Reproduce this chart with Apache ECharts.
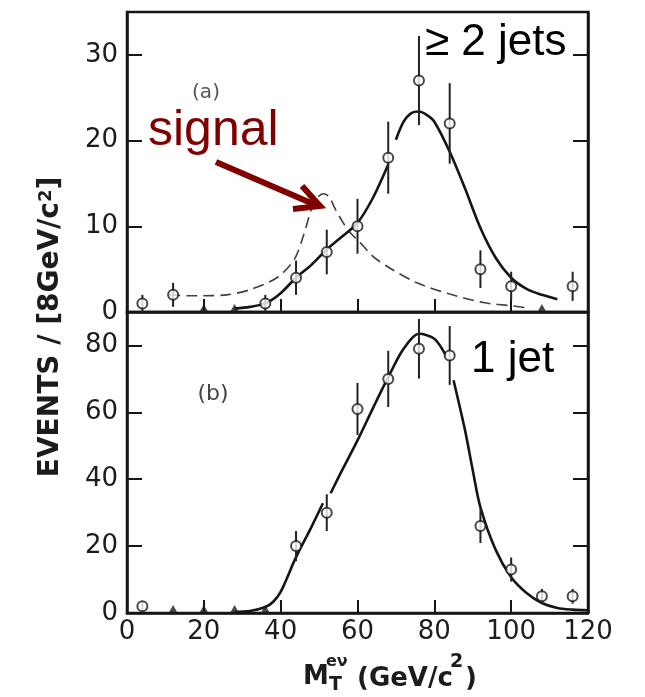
<!DOCTYPE html>
<html>
<head>
<meta charset="utf-8">
<script src="https://cdn.jsdelivr.net/npm/echarts@6/dist/echarts.min.js"></script>
<style>
html,body{margin:0;padding:0;background:#fff;}
#chart{width:645px;height:697px;}
</style>
</head>
<body>
<div id="chart"></div>
<script>
// ---- data ----
const xTickLabels = [0, 20, 40, 60, 80, 100, 120];
const topYTickLabels = [0, 10, 20, 30];
const bottomYTickLabels = [0, 20, 40, 60, 80];

// (a) >= 2 jets
const topBinX = [4, 12, 36, 44, 52, 60, 68, 76, 84, 92, 100, 116];
const topCounts = [1, 2, 1, 4, 7, 10, 18, 27, 22, 5, 3, 3];
const topErrors = [1.0, 1.4, 1.0, 2.0, 2.6, 3.2, 4.2, 5.2, 4.7, 2.2, 1.7, 1.7];
const topZeroBinX = [20, 28, 108];

const topFitX = [28, 32, 36, 40, 44, 48, 52, 56, 60, 64, 68, 69, 70, 72, 74, 76, 78, 80, 84, 88, 92, 96, 100, 104, 108, 112];
const topFitY = [0.4, 0.6, 1.0, 2.2, 4.0, 5.5, 7.3, 8.8, 10.4, 13.3, 17.2, null, 20.1, 22.2, 23.2, 23.4, 23.0, 22.2, 18.7, 14.4, 9.8, 6.3, 4.0, 2.7, 2.0, 1.5];

const signalX = [11, 16, 20, 26, 32, 39, 43.5, 46, 48, 49.5, 51, 52.5, 54, 56, 58, 60.7, 64, 68.5, 75.5, 84, 92.7, 100.5, 104];
const signalY = [2.0, 1.9, 1.9, 2.0, 2.6, 4.0, 6.1, 9.0, 12.0, 13.3, 13.8, 13.5, 12.2, 10.6, 9.3, 8.1, 6.5, 5.1, 3.4, 2.1, 1.1, 0.7, 0.5];

// (b) 1 jet
const botBinX = [4, 44, 52, 60, 68, 76, 84, 92, 100, 108, 116];
const botCounts = [2, 20, 30, 61, 70, 79, 77, 26, 13, 5, 5];
const botErrors = [1.5, 4.5, 5.5, 7.8, 8.4, 8.9, 8.8, 5.1, 3.6, 2.2, 2.2];
const botZeroBinX = [12, 20, 28, 36];

const botFitX = [28, 32, 36, 38, 40, 44, 48, 51, 52, 53, 56, 60, 64, 68, 72, 76, 80, 83, 84, 85, 88, 90, 92, 96, 100, 104, 108, 112, 116, 120];
const botFitY = [0.3, 0.6, 1.8, 3.3, 6.3, 16.7, 25.7, 32.8, null, 35.8, 42.7, 51.6, 61.2, 70.5, 79.0, 83.5, 82.0, 77.0, null, 69.6, 54.6, 42.7, 31.6, 18.8, 10.7, 6.0, 3.0, 1.5, 1.0, 0.8];

// ---- helpers ----
const zip = (xs, ys) => xs.map((x, i) => [x, ys[i]]);
const errData = (xs, vs, es) => xs.map((x, i) => [x, vs[i] - es[i], vs[i] + es[i]]);
const zeros = xs => xs.map(x => [x, 0]);

const INK = '#151515';
const tickFont = { fontFamily: 'DejaVu Sans', fontSize: 26, color: '#1c1c1c' };

function errRender(params, api) {
  const x = api.value(0);
  const p1 = api.coord([x, api.value(1)]);
  const p2 = api.coord([x, api.value(2)]);
  return { type: 'line', shape: { x1: p1[0], y1: p1[1], x2: p2[0], y2: p2[1] },
           style: { stroke: '#222', lineWidth: 2 } };
}

function xAxisCfg(gridIndex, showLabels) {
  return {
    type: 'value', gridIndex, min: 0, max: 120, interval: 20,
    axisLine: { show: true, onZero: false, lineStyle: { color: INK, width: 2.5 } },
    axisTick: { show: true, inside: true, length: 13, lineStyle: { color: INK, width: 2 } },
    axisLabel: Object.assign({ show: showLabels, margin: 6,
      formatter: v => xTickLabels.includes(v) ? String(v) : '' }, tickFont),
    splitLine: { show: false }
  };
}
function yAxisCfg(gridIndex, max, interval, labels, right) {
  return {
    type: 'value', gridIndex, min: 0, max, interval, position: right ? 'right' : 'left',
    axisLine: { show: true, onZero: false, lineStyle: { color: INK, width: 2.5 } },
    axisTick: { show: true, inside: true, length: 15, lineStyle: { color: INK, width: 2 } },
    axisLabel: Object.assign({ show: !right, margin: 9, showMaxLabel: false,
      formatter: v => labels.includes(v) ? String(v) : '' }, tickFont),
    splitLine: { show: false }
  };
}

const circleStyle = { color: '#fff', borderColor: '#1a1a1a', borderWidth: 2 };

const chart = echarts.init(document.getElementById('chart'), null, { renderer: 'canvas' });
chart.setOption({
  backgroundColor: '#fff',
  animation: false,
  grid: [
    { left: 127, top: 12, width: 461, height: 300, show: true, borderColor: INK, borderWidth: 2.5, backgroundColor: 'transparent' },
    { left: 127, top: 312, width: 461, height: 301, show: true, borderColor: INK, borderWidth: 2.5, backgroundColor: 'transparent' }
  ],
  xAxis: [xAxisCfg(0, false), xAxisCfg(1, true)],
  yAxis: [
    yAxisCfg(0, 35, 10, topYTickLabels, false),
    yAxisCfg(0, 35, 10, topYTickLabels, true),
    yAxisCfg(1, 90, 20, bottomYTickLabels, false),
    yAxisCfg(1, 90, 20, bottomYTickLabels, true)
  ],
  series: [
    // top panel
    { type: 'line', xAxisIndex: 0, yAxisIndex: 0, data: zip(signalX, signalY), smooth: 0.3,
      showSymbol: false, lineStyle: { color: '#404040', width: 1.6, type: [11, 6] }, z: 2 },
    { type: 'line', xAxisIndex: 0, yAxisIndex: 0, data: zip(topFitX, topFitY), smooth: 0.3,
      connectNulls: false, showSymbol: false, lineStyle: { color: INK, width: 2.6 }, z: 3 },
    { type: 'custom', xAxisIndex: 0, yAxisIndex: 0, renderItem: errRender,
      data: errData(topBinX, topCounts, topErrors), encode: { x: 0, y: [1, 2] }, z: 4 },
    { type: 'scatter', xAxisIndex: 0, yAxisIndex: 0, data: zip(topBinX, topCounts),
      symbol: 'circle', symbolSize: 10, itemStyle: circleStyle, z: 5 },
    { type: 'scatter', xAxisIndex: 0, yAxisIndex: 0, data: zeros(topZeroBinX),
      symbol: 'triangle', symbolSize: [9, 8], symbolOffset: [0, -4], itemStyle: { color: '#1a1a1a' }, z: 5 },
    // bottom panel
    { type: 'line', xAxisIndex: 1, yAxisIndex: 2, data: zip(botFitX, botFitY), smooth: 0.3,
      connectNulls: false, showSymbol: false, lineStyle: { color: INK, width: 2.6 }, z: 3 },
    { type: 'custom', xAxisIndex: 1, yAxisIndex: 2, renderItem: errRender,
      data: errData(botBinX, botCounts, botErrors), encode: { x: 0, y: [1, 2] }, z: 4 },
    { type: 'scatter', xAxisIndex: 1, yAxisIndex: 2, data: zip(botBinX, botCounts),
      symbol: 'circle', symbolSize: 10, itemStyle: circleStyle, z: 5 },
    { type: 'scatter', xAxisIndex: 1, yAxisIndex: 2, data: zeros(botZeroBinX),
      symbol: 'triangle', symbolSize: [9, 8], symbolOffset: [0, -4], itemStyle: { color: '#1a1a1a' }, z: 5 }
  ],
  graphic: [
    // y axis title
    { type: 'text', x: 51, y: 327, rotation: Math.PI / 2, z: 10,
      style: { text: 'EVENTS / [8GeV/c{s|2}]', align: 'center', verticalAlign: 'middle',
               font: 'bold 28px "DejaVu Sans"', fill: '#1c1c1c',
               rich: { s: { fontSize: 18, fontWeight: 'bold', fontFamily: 'DejaVu Sans', verticalAlign: 'top', fill: '#1c1c1c' } } } },
    // x axis title pieces
    { type: 'text', x: 303, y: 677, z: 10, style: { text: 'M', align: 'left', verticalAlign: 'middle', font: 'bold 26px "DejaVu Sans"', fill: '#1c1c1c' } },
    { type: 'text', x: 326, y: 662, z: 10, style: { text: 'eν', align: 'left', verticalAlign: 'middle', font: 'bold 16px "DejaVu Sans"', fill: '#1c1c1c' } },
    { type: 'text', x: 329, y: 685, z: 10, style: { text: 'T', align: 'left', verticalAlign: 'middle', font: 'bold 19px "DejaVu Sans"', fill: '#1c1c1c' } },
    { type: 'text', x: 357, y: 679, z: 10, style: { text: '(GeV/c', align: 'left', verticalAlign: 'middle', font: 'bold 26px "DejaVu Sans"', fill: '#1c1c1c' } },
    { type: 'text', x: 450, y: 662, z: 10, style: { text: '2', align: 'left', verticalAlign: 'middle', font: 'bold 19px "DejaVu Sans"', fill: '#1c1c1c' } },
    { type: 'text', x: 465, y: 679, z: 10, style: { text: ')', align: 'left', verticalAlign: 'middle', font: 'bold 26px "DejaVu Sans"', fill: '#1c1c1c' } },
    // panel labels
    { type: 'text', x: 206, y: 93, z: 10, style: { text: '(a)', align: 'center', verticalAlign: 'middle', font: '20px "DejaVu Sans"', fill: '#555' } },
    { type: 'text', x: 213, y: 394, z: 10, style: { text: '(b)', align: 'center', verticalAlign: 'middle', font: '22px "DejaVu Sans"', fill: '#444' } },
    // overlay annotations
    { type: 'text', x: 425, y: 43, z: 10, style: { text: '≥ 2 jets', align: 'left', verticalAlign: 'middle', font: '44px "Liberation Sans"', fill: '#000' } },
    { type: 'text', x: 471, y: 360, z: 10, style: { text: '1 jet', align: 'left', verticalAlign: 'middle', font: '44px "Liberation Sans"', fill: '#000' } },
    { type: 'text', x: 148, y: 131, z: 10, style: { text: 'signal', align: 'left', verticalAlign: 'middle', font: '50px "Liberation Sans"', fill: '#800000' } },
    { type: 'polyline', z: 10, shape: { points: [[216, 162], [318, 206]] }, style: { stroke: '#800000', lineWidth: 6, lineCap: 'butt' } },
    { type: 'polyline', z: 10, shape: { points: [[302, 186], [320, 206], [293, 209]] }, style: { stroke: '#800000', lineWidth: 6, fill: null, lineJoin: 'miter' } }
  ]
});
</script>
</body>
</html>
